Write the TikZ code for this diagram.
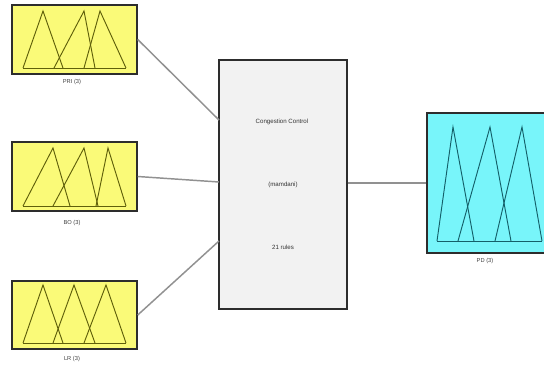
\documentclass[tikz,border=0pt]{standalone}
\usepackage{fontspec}
\setmainfont{Liberation Sans}
\usetikzlibrary{fit}
\definecolor{inyellow}{RGB}{250,250,120}
\definecolor{outcyan}{RGB}{120,245,250}
\definecolor{rulegray}{RGB}{242,242,242}
\definecolor{frame}{RGB}{45,45,45}
\definecolor{olive}{RGB}{95,95,10}
\definecolor{teal}{RGB}{20,95,105}
\definecolor{wire}{RGB}{145,145,145}
\tikzset{
  box/.style={draw=frame, line width=1.1pt, inner sep=0pt, rectangle},
  inbox/.style={box, fill=inyellow},
  outbox/.style={box, fill=outcyan},
  rulebox/.style={box, fill=rulegray, line width=0.9pt},
  mfin/.style={draw=olive, line width=0.7pt, line join=miter},
  mfout/.style={draw=teal, line width=0.7pt, line join=miter},
  lbl/.style={font=\fontsize{4.3}{5}\selectfont, text=black!75, inner sep=0pt},
  txt/.style={font=\fontsize{4.6}{5.5}\selectfont, text=black!80, inner sep=0pt},
  wirel/.style={draw=wire, line width=1.1pt}
}
\begin{document}
\begin{tikzpicture}[x=0.75pt, y=-0.75pt]
\useasboundingbox (0,0) rectangle (544,365);
\fill[white] (0,0) rectangle (544,365);

% input variable blocks
\node[inbox, fit={(12,5)(137,74)}] (pri) {};
\node[inbox, fit={(12,142)(137,211)}] (bo) {};
\node[inbox, fit={(12,281)(137,349)}] (lr) {};
% rule block
\node[rulebox, fit={(219,60)(347,309)}] (fis) {};
% output variable block (runs past the right edge)
\node[outbox, fit={(427,113)(552,253)}] (pd) {};

% membership functions: PRI
\draw[mfin] (23,68) -- (126,68);
\draw[mfin] (23,68) -- (43,11) -- (63,68);
\draw[mfin] (54,68) -- (84,11) -- (95,68);
\draw[mfin] (84,68) -- (100,11) -- (126,68);
% membership functions: BO
\draw[mfin] (23,206) -- (126,206);
\draw[mfin] (23,206) -- (53,148) -- (70,206);
\draw[mfin] (53,206) -- (84,148) -- (98,206);
\draw[mfin] (96,206) -- (108,148) -- (126,206);
% membership functions: LR
\draw[mfin] (23,343) -- (126,343);
\draw[mfin] (23,343) -- (43,285) -- (63,343);
\draw[mfin] (53,343) -- (74,285) -- (95,343);
\draw[mfin] (84,343) -- (106,285) -- (126,343);
% membership functions: PD
\draw[mfout] (437,241) -- (542,241);
\draw[mfout] (437,241) -- (453,127) -- (474,241);
\draw[mfout] (458,241) -- (490,127) -- (511,241);
\draw[mfout] (495,241) -- (522,127) -- (542,241);

% labels
\node[lbl] (lpri) at (72,82) {PRI (3)};
\node[lbl] (lbo) at (72,223) {BO (3)};
\node[lbl] (llr) at (72,359) {LR (3)};
\node[lbl] (lpd) at (485,261) {PD (3)};
\node[txt] (t1) at (282,122) {Congestion Control};
\node[txt] (t2) at (283,185) {(mamdani)};
\node[txt] (t3) at (283,247) {21 rules};

% connection points on the rule block
\coordinate (inA) at (219,120);
\coordinate (inB) at (219,182);
\coordinate (inC) at (219,241);

% connectors
\draw[wirel] (pri.east) -- (inA);
\draw[wirel] (bo.east) -- (inB);
\draw[wirel] (lr.east) -- (inC);
\draw[wirel] (fis.east |- pd.west) -- (pd.west);
\end{tikzpicture}
\end{document}
